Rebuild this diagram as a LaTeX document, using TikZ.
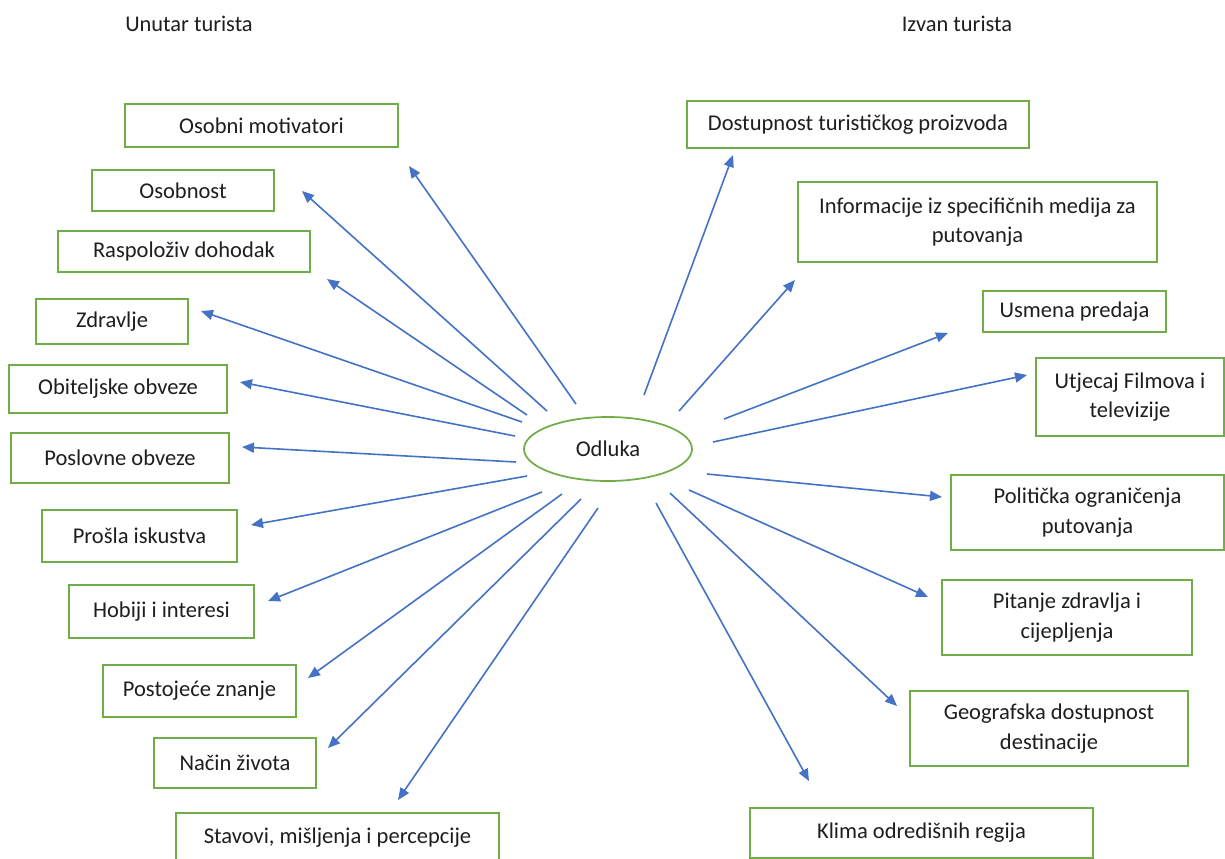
\documentclass[tikz,border=0pt]{standalone}
\usepackage{fontspec}
\setmainfont{Carlito}
\usetikzlibrary{arrows.meta,shapes.geometric}
\definecolor{boxgreen}{HTML}{70AD47}
\definecolor{arrblue}{HTML}{4472C4}
\definecolor{txt}{HTML}{1E1E1E}
\newcommand{\pxu}{0.75pt}
\begin{document}
\begin{tikzpicture}[x=0.75pt,y=-0.75pt,
  bx/.style={draw=boxgreen,line width=1.5pt,align=center,inner sep=0pt,text=txt,
    font=\fontsize{16.9}{22}\selectfont},
  hdr/.style={text=txt,inner sep=0pt,font=\fontsize{16.8}{20}\selectfont},
  arr/.style={draw=arrblue,line width=1.2pt,-{Triangle[length=9pt,width=7.5pt]}},
  ell/.style={draw=boxgreen,line width=1.3pt,ellipse,text=txt,
    font=\fontsize{16.9}{22}\selectfont,minimum width=168*\pxu,minimum height=64*\pxu,inner sep=0pt}]
\useasboundingbox (0,0) rectangle (1225,858);
\fill[white] (0,0) rectangle (1225,858);

\node[hdr] (hl) at (189,24) {Unutar turista};
\node[hdr] (hr) at (957,24) {Izvan turista};

\node[ell] (od) at (608,449) {Odluka};

% left boxes
\node[bx,minimum width=273*\pxu,minimum height=43*\pxu] (l1) at (261.5,125.5) {Osobni motivatori};
\node[bx,minimum width=182*\pxu,minimum height=41*\pxu] (l2) at (183,190.5) {Osobnost};
\node[bx,minimum width=252*\pxu,minimum height=41*\pxu] (l3) at (184,251.5) {Raspoloživ dohodak};
\node[bx,minimum width=152*\pxu,minimum height=45*\pxu] (l4) at (112,321.5) {Zdravlje};
\node[bx,minimum width=218*\pxu,minimum height=48*\pxu] (l5) at (118,389) {Obiteljske obveze};
\node[bx,minimum width=218*\pxu,minimum height=50*\pxu] (l6) at (120,458) {Poslovne obveze};
\node[bx,minimum width=195*\pxu,minimum height=52*\pxu] (l7) at (139.5,536) {Prošla iskustva};
\node[bx,minimum width=185*\pxu,minimum height=53*\pxu] (l8) at (161.5,611.5) {Hobiji i interesi};
\node[bx,minimum width=193*\pxu,minimum height=52*\pxu] (l9) at (199.5,691) {Postojeće znanje};
\node[bx,minimum width=162*\pxu,minimum height=50*\pxu] (l10) at (235,763) {Način života};
\node[bx,minimum width=323*\pxu,minimum height=50*\pxu] (l11) at (337.5,838) {Stavovi, mišljenja i percepcije};

% right boxes
\node[bx,minimum width=342*\pxu,minimum height=47*\pxu] (r1) at (858,124.5) {Dostupnost turističkog proizvoda};
\node[bx,minimum width=359*\pxu,minimum height=80*\pxu] (r2) at (977.5,222) {Informacije iz specifičnih medija za\\putovanja};
\node[bx,minimum width=183*\pxu,minimum height=41*\pxu] (r3) at (1074.5,311.5) {Usmena predaja};
\node[bx,minimum width=188*\pxu,minimum height=78*\pxu] (r4) at (1130,397) {Utjecaj Filmova i\\televizije};
\node[bx,minimum width=273*\pxu,minimum height=75*\pxu] (r5) at (1087.5,512.5) {Politička ograničenja\\putovanja};
\node[bx,minimum width=250*\pxu,minimum height=75*\pxu] (r6) at (1067,617.5) {Pitanje zdravlja i\\cijepljenja};
\node[bx,minimum width=278*\pxu,minimum height=75*\pxu] (r7) at (1049,728.5) {Geografska dostupnost\\destinacije};
\node[bx,minimum width=343*\pxu,minimum height=50*\pxu] (r8) at (921.5,833) {Klima odredišnih regija};

% arrow end points (left)
\coordinate (sl1) at (576,404); \coordinate (tl1) at (409,166);
\coordinate (sl2) at (547,411); \coordinate (tl2) at (302,191);
\coordinate (sl3) at (527,415); \coordinate (tl3) at (327,279);
\coordinate (sl4) at (522,422); \coordinate (tl4) at (201,311);
\coordinate (sl5) at (515,436); \coordinate (tl5) at (240,382);
\coordinate (sl6) at (516,462); \coordinate (tl6) at (242,447);
\coordinate (sl7) at (527,476); \coordinate (tl7) at (251,525);
\coordinate (sl8) at (542,492); \coordinate (tl8) at (268,601);
\coordinate (sl9) at (562,494); \coordinate (tl9) at (308,678);
\coordinate (sl10) at (581,499); \coordinate (tl10) at (328,748);
\coordinate (sl11) at (598,508); \coordinate (tl11) at (398,800);
% arrow end points (right)
\coordinate (sr1) at (644,395); \coordinate (tr1) at (733,155);
\coordinate (sr2) at (679,411); \coordinate (tr2) at (795,280);
\coordinate (sr3) at (724,419); \coordinate (tr3) at (948,333);
\coordinate (sr4) at (713,442); \coordinate (tr4) at (1027,375);
\coordinate (sr5) at (707,474); \coordinate (tr5) at (942,497);
\coordinate (sr6) at (689,490); \coordinate (tr6) at (928,597);
\coordinate (sr7) at (670,493); \coordinate (tr7) at (897,706);
\coordinate (sr8) at (656,503); \coordinate (tr8) at (809,781);

\foreach \i in {1,...,11} { \draw[arr] (sl\i) -- (tl\i); }
\foreach \i in {1,...,8} { \draw[arr] (sr\i) -- (tr\i); }
\end{tikzpicture}
\end{document}
